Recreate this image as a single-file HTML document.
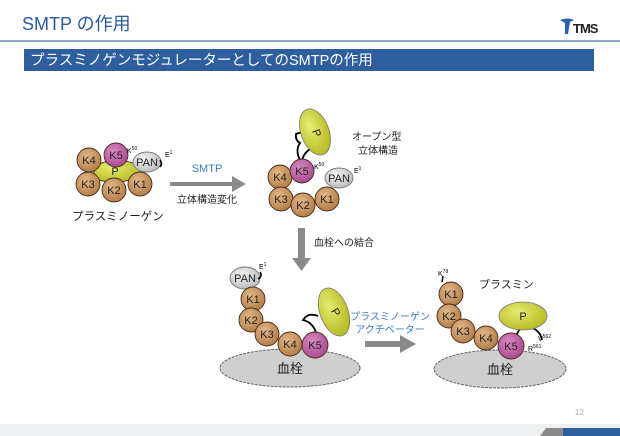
<!DOCTYPE html>
<html><head><meta charset="utf-8"><style>
body{margin:0;width:620px;height:436px;overflow:hidden;background:#fff}
svg{display:block}
text{font-family:"Liberation Sans","Noto Sans CJK JP",sans-serif}
</style></head><body>
<svg width="620" height="436" viewBox="0 0 620 436">
<defs>
<radialGradient id="br" cx="40%" cy="35%" r="70%"><stop offset="0" stop-color="#e2b888"/><stop offset="1" stop-color="#b07a45"/></radialGradient>
<radialGradient id="pk" cx="40%" cy="35%" r="70%"><stop offset="0" stop-color="#d78bc0"/><stop offset="1" stop-color="#a84590"/></radialGradient>
<radialGradient id="gy" cx="40%" cy="35%" r="70%"><stop offset="0" stop-color="#f4f4f4"/><stop offset="1" stop-color="#b8b8b8"/></radialGradient>
<radialGradient id="yl" cx="40%" cy="35%" r="70%"><stop offset="0" stop-color="#e6ec70"/><stop offset="1" stop-color="#b4b820"/></radialGradient>
</defs>
<text x="22" y="30" font-size="18" fill="#2a5a9a">SMTP の作用</text>
<path d="M560 20 q8 -3 14 0 l-4 2 l-2 12 l-3 0 l0 -11 z" fill="#2a5fb0"/>
<text x="573" y="33" font-size="13" font-weight="bold" fill="#222" letter-spacing="-1">TMS</text>
<rect x="0" y="40" width="620" height="2" fill="#8aa8c8"/>
<rect x="24" y="49" width="570" height="22" fill="#2d5e9e"/>
<text x="30" y="65" font-size="14.5" fill="#fff">プラスミノゲンモジュレーターとしてのSMTPの作用</text>

<g stroke="#4a2e18" stroke-width="0.9">
<path d="M98 165 Q115 155 138 165 Q145 175 130 180 Q115 184 98 180 Q90 172 98 165Z" fill="url(#yl)"/>
<circle cx="89" cy="160" r="12" fill="url(#br)"/><circle cx="116" cy="155" r="12" fill="url(#pk)"/>
<ellipse cx="147" cy="162" rx="14" ry="10" fill="url(#gy)" stroke="#777"/>
<circle cx="88" cy="184" r="12" fill="url(#br)"/><circle cx="114" cy="190" r="12" fill="url(#br)"/><circle cx="140" cy="184" r="12" fill="url(#br)"/>
</g>
<g font-size="11" text-anchor="middle" fill="#222">
<text x="89" y="164">K4</text><text x="116" y="159">K5</text><text x="147" y="166">PAN</text><text x="115" y="175">P</text>
<text x="88" y="188">K3</text><text x="114" y="194">K2</text><text x="140" y="188">K1</text>
</g>
<text x="127" y="153" font-size="7">K<tspan font-size="5" dy="-3">50</tspan></text>
<text x="165" y="157" font-size="7">E<tspan font-size="5" dy="-3">1</tspan></text>
<path d="M160 160 q3 4 0 7" stroke="#000" fill="none" stroke-width="1.5"/>
<text x="72" y="220" font-size="11.5" fill="#222">プラスミノーゲン</text>

<path d="M170 182 H232 V176 L246 184 L232 192 V186 H170Z" fill="#8a8a8a"/>
<text x="207" y="172" font-size="11" fill="#3a7cc0" text-anchor="middle">SMTP</text>
<text x="207" y="203" font-size="10" fill="#222" text-anchor="middle">立体構造変化</text>

<path d="M300 160 Q295 150 300 143 Q295 140 296 134 Q305 130 308 137 M302 160 Q305 150 316 146" stroke="#000" stroke-width="1.8" fill="none"/>
<ellipse cx="315" cy="132" rx="14" ry="24" transform="rotate(-20 315 132)" fill="url(#yl)" stroke="#777" stroke-width="0.8"/>
<g stroke="#4a2e18" stroke-width="0.9">
<circle cx="280" cy="177" r="12" fill="url(#br)"/><circle cx="302" cy="171" r="12" fill="url(#pk)"/>
<ellipse cx="339" cy="178" rx="14" ry="10" fill="url(#gy)" stroke="#777"/>
<circle cx="281" cy="199" r="12" fill="url(#br)"/><circle cx="303" cy="205" r="12" fill="url(#br)"/><circle cx="327" cy="199" r="12" fill="url(#br)"/>
</g>
<g font-size="11" text-anchor="middle" fill="#222">
<text x="280" y="181">K4</text><text x="302" y="175">K5</text><text x="339" y="182">PAN</text>
<text x="281" y="203">K3</text><text x="303" y="209">K2</text><text x="327" y="203">K1</text>
<text x="317" y="137" transform="rotate(70 317 133)">P</text>
</g>
<text x="314" y="169" font-size="7">K<tspan font-size="5" dy="-3">50</tspan></text>
<text x="354" y="173" font-size="7">E<tspan font-size="5" dy="-3">1</tspan></text>
<text x="352" y="140" font-size="10" fill="#222">オープン型</text>
<text x="358" y="154" font-size="10" fill="#222">立体構造</text>

<path d="M298 228 H305 V258 H311 L301.5 271 L292 258 H298Z" fill="#8a8a8a"/>
<text x="314" y="246" font-size="10" fill="#222">血栓への結合</text>

<ellipse cx="290" cy="368" rx="70" ry="19" fill="#cfcfcf" stroke="#666" stroke-width="1" stroke-dasharray="3 1"/>
<text x="290" y="373" font-size="13" text-anchor="middle" fill="#222">血栓</text>
<path d="M316 332 Q312 322 303 320 Q308 312 318 316" stroke="#000" stroke-width="1.8" fill="none"/>
<ellipse cx="334" cy="312" rx="14" ry="25" transform="rotate(-20 334 312)" fill="url(#yl)" stroke="#777" stroke-width="0.8"/>
<g stroke="#4a2e18" stroke-width="0.9">
<ellipse cx="245" cy="278" rx="15" ry="11" fill="url(#gy)" stroke="#777"/>
<circle cx="253" cy="299" r="12" fill="url(#br)"/><circle cx="251" cy="320" r="12" fill="url(#br)"/>
<circle cx="267" cy="334" r="12" fill="url(#br)"/><circle cx="290" cy="344" r="12" fill="url(#br)"/>
<circle cx="315" cy="345" r="13" fill="url(#pk)"/>
</g>
<g font-size="11" text-anchor="middle" fill="#222">
<text x="245" y="282">PAN</text><text x="253" y="303">K1</text><text x="251" y="324">K2</text>
<text x="267" y="338">K3</text><text x="290" y="348">K4</text><text x="315" y="349">K5</text>
<text x="336" y="316" transform="rotate(60 336 312)">P</text>
</g>
<text x="259" y="269" font-size="7">E<tspan font-size="5" dy="-3">1</tspan></text>
<path d="M260 272 q3 4 -2 7" stroke="#000" fill="none" stroke-width="1.5"/>

<path d="M365 341 H400 V335 L416 344 L400 353 V347 H365Z" fill="#8a8a8a"/>
<text x="390" y="320" font-size="10" fill="#3a7cc0" text-anchor="middle">プラスミノーゲン</text>
<text x="390" y="333" font-size="10" fill="#3a7cc0" text-anchor="middle">アクチベーター</text>

<ellipse cx="500" cy="369" rx="66" ry="19" fill="#cfcfcf" stroke="#666" stroke-width="1" stroke-dasharray="3 1"/>
<text x="500" y="374" font-size="13" text-anchor="middle" fill="#222">血栓</text>
<path d="M517 334 Q520 326 530 327 Q540 330 542 340" stroke="#000" stroke-width="1.8" fill="none"/>
<ellipse cx="523" cy="316" rx="24" ry="14" fill="url(#yl)" stroke="#777" stroke-width="0.8"/>
<g stroke="#4a2e18" stroke-width="0.9">
<circle cx="451" cy="294" r="12" fill="url(#br)"/><circle cx="449" cy="316" r="12" fill="url(#br)"/>
<circle cx="463" cy="331" r="12" fill="url(#br)"/><circle cx="486" cy="338" r="12" fill="url(#br)"/>
<circle cx="511" cy="346" r="13" fill="url(#pk)"/>
</g>
<g font-size="11" text-anchor="middle" fill="#222">
<text x="451" y="298">K1</text><text x="449" y="320">K2</text><text x="463" y="335">K3</text>
<text x="486" y="342">K4</text><text x="511" y="350">K5</text><text x="523" y="320">P</text>
</g>
<path d="M442 282 l1 -6" stroke="#000" stroke-width="1.5"/>
<text x="438" y="276" font-size="7">K<tspan font-size="5" dy="-3">78</tspan></text>
<text x="538" y="341" font-size="7">V<tspan font-size="5" dy="-3">562</tspan></text>
<text x="528" y="351" font-size="7">R<tspan font-size="5" dy="-3">561</tspan></text>
<text x="479" y="288" font-size="11" fill="#222">プラスミン</text>

<text x="575" y="415" font-size="8" fill="#aaa">12</text>
<rect x="0" y="424" width="620" height="12" fill="#eef0f2"/>
<path d="M540 436 L546 428 H563 V436Z" fill="#8a8a8a"/>
<rect x="563" y="428" width="57" height="8" fill="#2d5e9e"/>
</svg>
</body></html>
